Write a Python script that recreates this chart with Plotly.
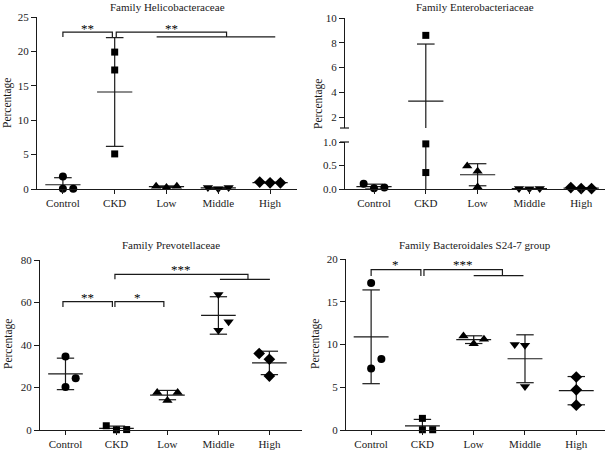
import numpy as np
import plotly.graph_objects as go

W, H = 606, 452
categories = ["Control", "CKD", "Low", "Middle", "High"]
symbols = ["circle", "square", "triangle-up", "triangle-down", "diamond"]
msizes = [8, 7, 9, 9, 9]

# ---- data (percentage) ----
helico_control = [1.8, 0.03, 0.03]
helico_ckd = [19.9, 17.3, 5.1]
helico_low = [0.4, 0.2, 0.4]
helico_middle = [0.2, 0.05, 0.2]
helico_high = [1.0, 0.9, 0.9]

entero_control = [0.11, 0.015, 0.03]
entero_ckd = [8.6, 0.96, 0.35]
entero_low = [0.49, 0.38, 0.04]
entero_middle = [0.01, 0.005, 0.01]
entero_high = [0.03, 0.01, 0.01]

prevo_control = [34.6, 20.2, 24.4]
prevo_ckd = [2.0, 0.1, 0.2]
prevo_low = [17.7, 13.9, 17.7]
prevo_middle = [63.8, 46.9, 51.0]
prevo_high = [36.0, 33.3, 25.4]

s24_control = [17.2, 7.2, 8.3]
s24_ckd = [1.36, 0.03, 0.03]
s24_low = [11.0, 10.1, 10.6]
s24_middle = [10.0, 9.9, 5.1]
s24_high = [6.2, 4.7, 2.9]

# horizontal scatter offsets of the three points in each group (layout)
off1 = [[0, 0, 0.2], [0, 0, 0], [-0.2, 0, 0.2], [-0.2, 0, 0.2], [-0.2, 0, 0.2]]
off2 = [[-0.2, 0, 0.2], [0, 0, 0], [-0.2, 0, 0], [-0.2, 0, 0.2], [-0.2, 0, 0.2]]
off3 = [[0, 0, 0.2], [-0.2, 0, 0.2], [-0.2, 0, 0.2], [0, 0, 0.2], [-0.2, 0, 0]]
off4 = [[0, 0, 0.2], [0, 0, 0.2], [-0.2, 0, 0.2], [-0.2, 0, 0], [0, 0, 0]]

panels = [
    dict(title="Family Helicobacteraceae",
         groups=[helico_control, helico_ckd, helico_low, helico_middle, helico_high], off=off1),
    dict(title="Family Enterobacteriaceae",
         groups=[entero_control, entero_ckd, entero_low, entero_middle, entero_high], off=off2),
    dict(title="Family Prevotellaceae",
         groups=[prevo_control, prevo_ckd, prevo_low, prevo_middle, prevo_high], off=off3),
    dict(title="Family Bacteroidales S24-7 group",
         groups=[s24_control, s24_ckd, s24_low, s24_middle, s24_high], off=off4),
]

FONT = "Liberation Serif"
INK = "#1a1a1a"
fig = go.Figure()


def py(p):
    return 1 - p / H


def px(p):
    return p / W


def add_group(xa, ya, groups, offs, split=None):
    for i, vals in enumerate(groups):
        vals = np.array(vals, dtype=float)
        m = vals.mean()
        s = vals.std(ddof=1)
        lx, ly = [], []
        lx += [i - 0.34, i + 0.34, None]
        ly += [m, m, None]
        for v in (m + s, m - s):
            lx += [i - 0.17, i + 0.17, None]
            ly += [v, v, None]
        lx += [i, i, None]
        ly += [m - s, m + s, None]
        fig.add_trace(go.Scatter(x=lx, y=ly, mode="lines", xaxis=xa, yaxis=ya,
                                 line=dict(color=INK, width=1.2), showlegend=False,
                                 hoverinfo="skip"))
        xs = [i + o for o in offs[i]]
        ys = list(vals)
        if split is not None:
            keep = [(a, b) for a, b in zip(xs, ys) if split[0] <= b <= split[1]]
            xs = [k[0] for k in keep]
            ys = [k[1] for k in keep]
        if xs:
            fig.add_trace(go.Scatter(x=xs, y=ys, mode="markers", xaxis=xa, yaxis=ya,
                                     marker=dict(symbol=symbols[i], size=msizes[i], color="black"),
                                     cliponaxis=False, showlegend=False))


add_group("x", "y", panels[0]["groups"], panels[0]["off"])
add_group("x2", "y2", panels[1]["groups"], panels[1]["off"], split=(-1, 1.0))
add_group("x2", "y3", panels[1]["groups"], panels[1]["off"], split=(1.13, 100))
add_group("x3", "y4", panels[2]["groups"], panels[2]["off"])
add_group("x4", "y5", panels[3]["groups"], panels[3]["off"])

tickfont = dict(family=FONT, size=11, color=INK)
axis_common = dict(showgrid=False, zeroline=False, showline=True, linecolor=INK, linewidth=1.2,
                   ticks="outside", ticklen=5, tickwidth=1.2, tickcolor=INK, tickfont=tickfont,
                   automargin=False, fixedrange=True)


def xaxis(dom, rng, anchor):
    return dict(axis_common, domain=dom, range=rng, anchor=anchor, tickmode="array",
                tickvals=list(range(len(categories))), ticktext=categories, ticklen=4)


def yaxis(dom, rng, anchor, tickvals, ticktext=None):
    d = dict(axis_common, domain=dom, range=rng, anchor=anchor, tickmode="array", tickvals=tickvals)
    if ticktext is not None:
        d["ticktext"] = ticktext
    return d


fig.update_layout(
    width=W, height=H, margin=dict(l=0, r=0, t=0, b=0, pad=0), autosize=False,
    paper_bgcolor="white", plot_bgcolor="white",
    xaxis=xaxis([px(37), px(297)], [-0.5, 4.52], "y"),
    yaxis=yaxis([py(189), py(17)], [0, 25], "x", [0, 5, 10, 15, 20, 25]),
    xaxis2=xaxis([px(345), px(605)], [-0.56, 4.46], "y2"),
    yaxis2=yaxis([py(189), py(142)], [0, 1.0], "x2", [0, 0.5, 1.0], ["0.0", "0.5", "1.0"]),
    yaxis3=yaxis([py(128), py(18)], [1.13, 10], "x2", [2, 4, 6, 8, 10]),
    xaxis3=xaxis([px(40), px(302)], [-0.5, 4.64], "y4"),
    yaxis4=yaxis([py(430), py(260)], [0, 80], "x3", [0, 20, 40, 60, 80]),
    xaxis4=xaxis([px(346), px(605)], [-0.49, 4.56], "y5"),
    yaxis5=yaxis([py(430), py(259)], [0, 20], "x4", [0, 5, 10, 15, 20]),
)

# titles
title_pos = [(167, 7), (475, 7), (171, 245), (475, 245)]
for p, (tx, ty) in zip(panels, title_pos):
    fig.add_annotation(text=p["title"], xref="paper", yref="paper", x=px(tx), y=py(ty),
                       xanchor="center", yanchor="middle", showarrow=False,
                       font=dict(family=FONT, size=11, color=INK))

# y axis titles
for (tx, ty) in [(8, 103), (318, 104), (8, 344), (315, 344)]:
    fig.add_annotation(text="Percentage", xref="paper", yref="paper", x=px(tx), y=py(ty),
                       xanchor="center", yanchor="middle", showarrow=False, textangle=-90,
                       font=dict(family=FONT, size=11.5, color=INK))

# axis break marks on panel 2
for yy in (128, 142):
    fig.add_shape(type="line", xref="paper", yref="paper", x0=px(340), x1=px(349),
                  y0=py(yy), y1=py(yy), line=dict(color=INK, width=1.2))

LW = dict(color=INK, width=1.2)


def bracket(xr, yr, x0, x1, ytop, ydrop):
    fig.add_shape(type="path", xref=xr, yref=yr, line=LW,
                  path=f"M {x0},{ydrop} L {x0},{ytop} L {x1},{ytop} L {x1},{ydrop}")


def hline(xr, yr, x0, x1, yv):
    fig.add_shape(type="line", xref=xr, yref=yr, x0=x0, x1=x1, y0=yv, y1=yv, line=LW)


def stars(xr, yr, xv, yv, txt):
    fig.add_annotation(text=txt, xref=xr, yref=yr, x=xv, y=yv, showarrow=False,
                       xanchor="center", yanchor="middle",
                       font=dict(family=FONT, size=13, color="black"))


# panel 1
bracket("x", "y", 0, 0.955, 22.8, 22.1)
bracket("x", "y", 1.03, 3.16, 22.8, 22.1)
hline("x", "y", 1.81, 4.1, 22.1)
stars("x", "y", 0.48, 23.4, "**")
stars("x", "y", 2.1, 23.4, "**")

# panel 3
bracket("x3", "y4", -0.05, 0.92, 60.4, 57.9)
bracket("x3", "y4", 0.97, 1.93, 60.4, 57.9)
bracket("x3", "y4", 0.97, 3.58, 73.2, 70.9)
hline("x3", "y4", 3.03, 4.01, 70.9)
stars("x3", "y4", 0.43, 62.5, "**")
stars("x3", "y4", 1.42, 62.5, "*")
stars("x3", "y4", 2.27, 75.3, "***")

# panel 4
bracket("x4", "y5", 0, 0.97, 18.75, 18.0)
bracket("x4", "y5", 1.03, 2.56, 18.75, 18.0)
hline("x4", "y5", 2.0, 2.97, 18.05)
stars("x4", "y5", 0.47, 19.3, "*")
stars("x4", "y5", 1.79, 19.3, "***")

fig.write_html("out.html", config={"displayModeBar": False},
               post_script="document.body.style.margin='0px';")
